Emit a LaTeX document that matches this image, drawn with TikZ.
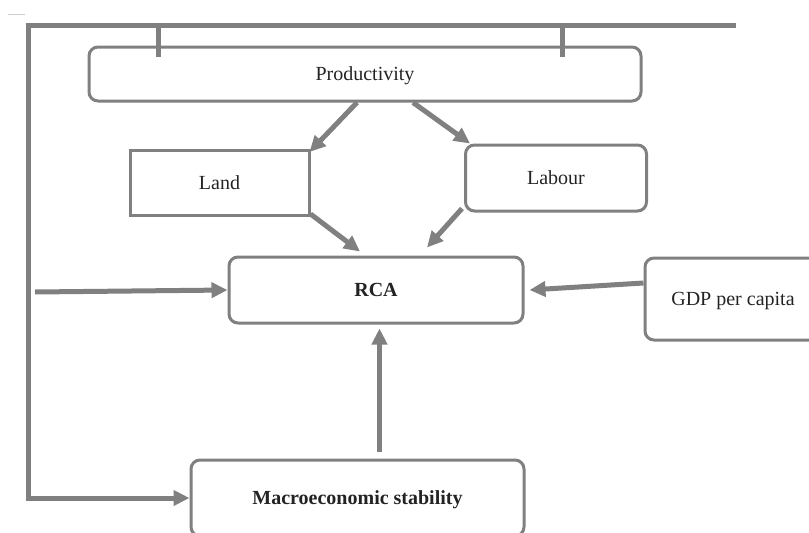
\documentclass[tikz,border=0pt]{standalone}
\usepackage{fontspec}
\setmainfont{Liberation Serif}
\usetikzlibrary{arrows.meta}
\definecolor{linegray}{RGB}{128,128,128}
\definecolor{txtgray}{RGB}{35,35,35}
\tikzset{
box/.style={draw=linegray,line width=3pt,rounded corners=9pt,text=txtgray,text depth=0pt,font=\fontsize{20}{24}\selectfont},
sharpbox/.style={box,sharp corners},
boldbox/.style={box,font=\fontsize{20}{24}\selectfont\bfseries},
arr/.style={draw=linegray,line width=5pt,-{Triangle[length=16pt,width=15pt]}},
bar/.style={draw=linegray,line width=5pt}
}
\begin{document}
\begin{tikzpicture}[x=1pt,y=-1pt]
\useasboundingbox (0,0) rectangle (809,533);
\clip (0,0) rectangle (809,533);
\draw[gray!40,line width=0.8pt] (8,14)--(25,14);
% boxes
\node[box,minimum width=552pt,minimum height=54pt] (prod) at (365,74) {Productivity};
\node[sharpbox,minimum width=179pt,minimum height=65pt] (land) at (219.5,183) {Land};
\node[box,minimum width=181pt,minimum height=66pt] (labour) at (556,178) {Labour};
\node[boldbox,minimum width=294pt,minimum height=66pt] (rca) at (376,290) {RCA};
\node[box,minimum width=176pt,minimum height=82pt] (gdp) at (733,299) {GDP per capita};
\node[boldbox,minimum width=333pt,minimum height=76pt] (macro) at (357.5,498) {Macroeconomic stability};
% arrows
\draw[arr] ([xshift=-8pt]prod.south) -- ([xshift=-1pt,yshift=-3pt]land.north east);
\draw[arr] ([xshift=48pt]prod.south) -- ([xshift=6pt]labour.north west);
\draw[arr] ([yshift=3pt]land.south east) -- ([xshift=-16pt,yshift=4pt]rca.north);
\draw[arr] ([xshift=-2pt,yshift=4pt]labour.south west) -- ([xshift=51pt,yshift=8pt]rca.north);
\coordinate (inL) at (35,292);
\draw[arr] (inL) -- (rca.west);
\draw[arr] ([yshift=16pt]gdp.west) -- ([xshift=5pt]rca.east);
\coordinate (mUp) at ([xshift=22pt,yshift=7pt]macro.north);
\draw[arr,shorten >=4pt] (mUp) -- (mUp |- rca.south);
% feedback loop
\coordinate (loopR) at (736,25);
\coordinate (loopL) at (28,25);
\draw[arr] (loopR) -- (loopL) |- (macro.west);
\coordinate (tickA) at (158,25);
\coordinate (tickB) at (562,25);
\draw[bar] (tickA) -- ++(0,32);
\draw[bar] (tickB) -- ++(0,32);
\end{tikzpicture}
\end{document}
